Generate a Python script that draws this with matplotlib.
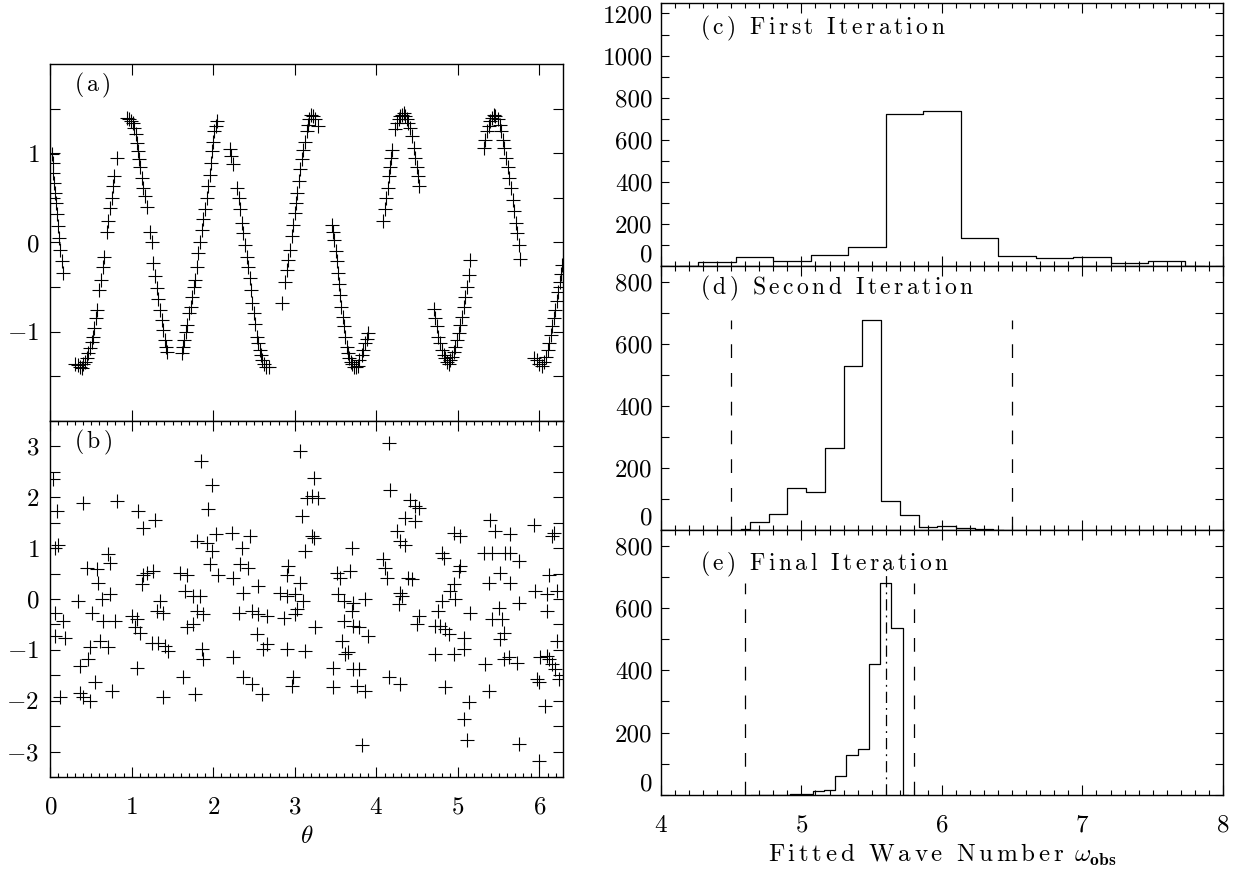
import numpy as np
import matplotlib
matplotlib.use('Agg')
import matplotlib.pyplot as plt
from matplotlib.ticker import MultipleLocator, FixedLocator

plt.rcParams['font.family'] = 'cmr10'
plt.rcParams['mathtext.fontset'] = 'cm'
plt.rcParams['axes.formatter.use_mathtext'] = True
plt.rcParams['axes.linewidth'] = 1.0

# (a) data points
theta_a = [0.018, 0.03, 0.039, 0.047, 0.059, 0.071, 0.08, 0.092, 0.108, 0.12, 0.141, 0.161,
           0.30, 0.345, 0.366, 0.386, 0.407, 0.427, 0.447, 0.468, 0.488, 0.509, 0.521, 0.537, 0.562,
           0.578, 0.603, 0.619, 0.644, 0.664, 0.693, 0.713, 0.734, 0.754, 0.767, 0.783, 0.824,
           0.947, 0.971, 0.987, 1.012, 1.028, 1.049, 1.061, 1.073, 1.09, 1.102, 1.122, 1.143, 1.163,
           1.184, 1.225, 1.245, 1.266, 1.286, 1.306, 1.327, 1.347, 1.368, 1.388, 1.409, 1.421, 1.437,
           1.613, 1.633, 1.642, 1.662, 1.682, 1.703, 1.723, 1.744, 1.764, 1.776, 1.797, 1.817, 1.838,
           1.858, 1.878, 1.899, 1.92, 1.94, 1.96, 1.973, 1.989, 2.002, 2.014, 2.031, 2.043,
           2.206, 2.218, 2.239, 2.288, 2.309, 2.329, 2.35, 2.37, 2.39, 2.411, 2.431, 2.444, 2.46,
           2.48, 2.493, 2.513, 2.534, 2.542, 2.567, 2.583, 2.603, 2.624, 2.648, 2.677,
           2.84, 2.881, 2.901, 2.922, 2.942, 2.963, 2.983, 3.004, 3.016, 3.032, 3.049, 3.065, 3.085,
           3.106, 3.126, 3.147, 3.159, 3.179, 3.196, 3.22, 3.249, 3.29,
           3.454, 3.474, 3.486, 3.503, 3.515, 3.527, 3.544, 3.556, 3.568, 3.585, 3.597, 3.617, 3.638,
           3.65, 3.67, 3.687, 3.707, 3.728, 3.748, 3.769, 3.793, 3.822, 3.842, 3.862, 3.883, 3.903,
           4.087, 4.108, 4.12, 4.137, 4.149, 4.161, 4.178, 4.194, 4.231, 4.251, 4.272, 4.292, 4.313,
           4.333, 4.353, 4.374, 4.394, 4.415, 4.435, 4.456, 4.476, 4.496, 4.505, 4.525,
           4.701, 4.721, 4.742, 4.762, 4.783, 4.803, 4.824, 4.844, 4.865, 4.885, 4.906, 4.926, 4.947,
           4.967, 4.988, 5.008, 5.028, 5.049, 5.069, 5.09, 5.11, 5.131, 5.151,
           5.315, 5.335, 5.356, 5.376, 5.397, 5.417, 5.437, 5.458, 5.486, 5.511, 5.531, 5.552, 5.568,
           5.588, 5.609, 5.629, 5.65, 5.67, 5.691, 5.707, 5.724, 5.744, 5.765,
           5.928, 5.969, 6.0, 6.03, 6.06, 6.08, 6.10, 6.12, 6.14, 6.16, 6.18, 6.19, 6.21, 6.23,
           6.25, 6.27, 6.28]
y_a = [0.99, 0.89, 0.78, 0.67, 0.55, 0.44, 0.32, 0.18, 0.05, -0.08, -0.21, -0.34,
       -1.36, -1.37, -1.39, -1.41, -1.36, -1.34, -1.30, -1.24, -1.18, -1.11, -1.06, -0.96, -0.85,
       -0.76, -0.53, -0.42, -0.27, -0.16, 0.12, 0.24, 0.39, 0.50, 0.63, 0.74, 0.95,
       1.40, 1.38, 1.36, 1.34, 1.28, 1.21, 1.12, 1.02, 0.93, 0.85, 0.72, 0.61, 0.52,
       0.40, 0.12, 0.01, -0.23, -0.38, -0.51, -0.63, -0.76, -0.87, -0.98, -1.09, -1.17, -1.23,
       -1.24, -1.17, -1.09, -1.00, -0.93, -0.79, -0.72, -0.61, -0.50, -0.42, -0.27, -0.12, 0.01,
       0.14, 0.26, 0.37, 0.50, 0.63, 0.76, 0.89, 1.02, 1.13, 1.25, 1.30, 1.36,
       1.05, 0.97, 0.88, 0.61, 0.50, 0.37, 0.22, 0.11, -0.03, -0.16, -0.27, -0.40, -0.53,
       -0.68, -0.79, -0.91, -1.06, -1.13, -1.21, -1.26, -1.32, -1.36, -1.39, -1.40,
       -0.68, -0.44, -0.31, -0.20, -0.08, 0.07, 0.20, 0.33, 0.44, 0.55, 0.69, 0.82, 0.93,
       1.04, 1.13, 1.25, 1.32, 1.38, 1.43, 1.42, 1.38, 1.30,
       0.20, 0.12, 0.03, -0.10, -0.21, -0.34, -0.46, -0.59, -0.72, -0.83, -0.94, -1.06, -1.17,
       -1.24, -1.30, -1.34, -1.36, -1.39, -1.40, -1.38, -1.32, -1.26, -1.21, -1.13, -1.08, -1.02,
       0.24, 0.37, 0.50, 0.61, 0.74, 0.85, 0.95, 1.04, 1.27, 1.34, 1.38, 1.42, 1.43,
       1.45, 1.42, 1.38, 1.34, 1.28, 1.19, 1.06, 0.95, 0.84, 0.74, 0.63,
       -0.74, -0.85, -0.94, -1.06, -1.13, -1.21, -1.26, -1.30, -1.34, -1.36, -1.32, -1.28, -1.23,
       -1.17, -1.09, -1.02, -0.93, -0.83, -0.72, -0.61, -0.50, -0.36, -0.20,
       1.06, 1.15, 1.25, 1.30, 1.36, 1.40, 1.43, 1.42, 1.38, 1.32, 1.25, 1.15, 1.06,
       0.95, 0.84, 0.72, 0.61, 0.48, 0.35, 0.22, 0.11, -0.03, -0.18,
       -1.30, -1.32, -1.36, -1.38, -1.34, -1.28, -1.21, -1.13, -1.04, -0.94, -0.85, -0.76, -0.66, -0.55,
       -0.44, -0.35, -0.25]

# (b) residual points
theta_b = [0.039, 0.088, 0.059, 0.10, 0.407, 0.824, 1.082, 1.143, 1.286, 1.846, 1.99, 1.94, 1.797,
           2.03, 1.92, 1.98, 2.227, 2.35, 2.452, 2.33, 2.43, 2.247, 1.96, 2.063, 2.554, 2.37,
           0.448, 0.57, 0.59, 0.713, 0.734, 0.345, 0.632, 0.734, 0.509, 0.652, 0.795, 0.059, 0.161,
           0.059, 0.182, 0.611, 0.713, 0.488, 0.468, 0.366, 0.55, 0.754, 0.366, 0.407, 0.488, 0.12,
           1.061, 1.0, 1.061, 1.04, 1.10, 1.143, 1.184, 1.266, 1.122, 1.347, 1.306, 1.388, 1.245,
           1.327, 1.409, 1.45, 1.388, 1.634, 1.777, 1.593, 1.675, 1.654, 1.756, 1.838, 1.797, 1.879,
           1.675, 1.756, 1.859, 1.879, 2.247, 2.37, 2.472, 2.595, 2.309, 2.472, 2.554, 2.656, 2.533,
           2.656, 2.615, 2.902, 3.127, 2.82, 2.902, 3.004, 2.922, 2.902, 3.065, 3.106, 3.024, 3.004,
           2.861, 3.249, 2.983, 2.963, 3.065, 3.229, 3.147, 3.29, 3.209, 3.086, 3.208, 3.229, 3.127,
           3.474, 3.474,
           3.515, 3.678, 3.556, 3.535, 3.597, 3.719, 3.863, 3.699, 3.597, 3.719, 3.781, 3.903, 3.576,
           3.617, 3.658, 3.719, 3.781, 3.76, 3.863, 3.822, 4.149, 3.699, 4.169, 4.415, 4.476, 4.517,
           4.353, 4.476, 4.251, 4.292, 4.353, 4.087, 4.108, 4.128, 4.394, 4.435, 4.292, 4.312, 4.272,
           4.517, 4.496, 4.149, 4.292, 4.721, 4.783, 4.844, 4.885, 5.069, 4.803, 4.824, 4.946, 5.028,
           5.028, 5.008, 4.946, 4.905, 4.967, 4.803, 4.762, 5.151, 4.721, 4.946, 5.069, 4.844, 5.13,
           5.069, 5.11, 5.396, 5.458, 5.642, 5.315, 5.417, 5.58, 5.642, 5.744, 5.519, 5.376, 5.642,
           5.744, 5.499, 5.417, 5.539, 5.56, 5.519, 5.335, 5.56, 5.621, 5.723, 5.376, 5.744, 5.928,
           6.153, 6.173, 6.112, 5.948, 6.092, 6.214, 6.092, 6.214, 6.01, 6.092, 6.112, 6.153, 6.194,
           5.969, 5.989, 6.235, 6.071, 5.989]
y_b = [2.35, 1.73, 1.01, 1.07, 1.89, 1.92, 1.73, 1.40, 1.56, 2.71, 2.25, 1.76, 1.14,
       1.27, 1.10, 0.94, 1.30, 1.01, 1.24, 0.68, 0.61, 0.42, 0.68, 0.48, 0.26, 0.12,
       0.61, 0.58, 0.32, 0.88, 0.71, -0.04, -0.01, 0.09, -0.27, -0.43, -0.43, -0.27, -0.43,
       -0.73, -0.76, -0.82, -0.95, -0.95, -1.18, -1.31, -1.64, -1.80, -1.84, -1.93, -2.00, -1.93,
       -1.35, -0.33, -0.40, -0.56, -0.66, 0.48, 0.52, 0.55, 0.29, -0.04, -0.24, -0.27, -0.86,
       -0.86, -0.92, -1.02, -1.93, -1.54, -1.87, 0.52, 0.48, 0.16, 0.06, 0.06, -0.24, -0.30,
       -0.56, -0.50, -0.99, -1.18, -1.15, -1.54, -1.67, -1.87, -0.27, -0.24, -0.30, -0.33, -0.69,
       -0.89, -0.99, -0.99, -1.02, 0.12, 0.06, 0.09, 0.65, 0.48, 0.32, -0.04, -0.20, -0.30,
       -0.37, -0.56, -1.54, -1.71, 2.90, 2.38, 1.99, 1.99, 2.02, 1.63, 1.24, 1.20, 0.94,
       -1.35, -1.74,
       0.52, 0.55, 0.42, 0.09, -0.04, -0.07, -0.01, -0.24, -0.43, -0.53, -0.56, -0.73, -0.82,
       -1.09, -1.05, -1.38, -1.38, -1.71, -1.80, -2.88, 3.07, 1.01, 2.15, 1.95, 1.82, 1.79,
       1.59, 1.53, 1.33, 1.14, 1.07, 0.78, 0.61, 0.42, 0.42, 0.39, 0.12, 0.06, -0.10,
       -0.33, -0.50, -1.54, -1.67, -0.53, -0.53, -0.60, -0.69, -0.76, 0.91, 0.81, 1.30, 1.24,
       0.65, 0.55, 0.29, 0.16, -0.01, -0.04, -0.24, -0.27, -1.09, -1.09, -0.99, -1.74, -2.03,
       -2.36, -2.78, 1.56, 1.33, 1.27, 0.91, 0.91, 0.91, 0.91, 0.75, 0.52, 0.32, 0.32,
       -0.07, -0.17, -0.40, -0.40, -0.66, -0.79, -1.28, -1.18, -1.15, -1.25, -1.80, -2.85, 1.46,
       1.24, 1.30, 0.48, 0.16, 0.09, 0.16, -0.24, -0.82, -1.15, -1.12, -1.18, -1.28, -1.38,
       -1.58, -1.64, -1.58, -2.10, -3.18]

# histograms: bin centres and counts
cen_c = [4.133, 4.4, 4.667, 4.933, 5.2, 5.467, 5.733, 6.0, 6.267, 6.533, 6.8, 7.067, 7.333, 7.6, 7.867]
cnt_c = [0, 20, 44, 25, 52, 88, 722, 737, 131, 47, 36, 41, 16, 24, 0]
cen_d = [4.567, 4.7, 4.833, 4.967, 5.1, 5.233, 5.367, 5.5, 5.633, 5.767, 5.9, 6.033, 6.167, 6.3, 6.433]
cnt_d = [2, 27, 51, 136, 121, 264, 527, 677, 94, 47, 10, 12, 7, 3, 1]
cen_e = [4.64, 4.72, 4.8, 4.88, 4.96, 5.04, 5.12, 5.2, 5.28, 5.36, 5.44, 5.52, 5.6, 5.68, 5.76]
cnt_e = [0, 0, 1, 1, 2, 4, 12, 15, 60, 127, 148, 421, 679, 535, 0]
lim_d = [4.5, 6.5]
lim_e = [4.6, 5.8]
omega_e = 5.6


def spaced(s, gap=r'\,'):
    # letter-spaced roman text, like the wide plot font of the original
    parts = [r'\ ' if ch == ' ' else r'\mathrm{%s}' % ch for ch in s]
    return gap.join(parts)


fs = 18
fig = plt.figure(figsize=(12.47, 8.75), dpi=100)

ax_a = fig.add_axes([0.0403, 0.5189, 0.4108, 0.408])
ax_b = fig.add_axes([0.0403, 0.1120, 0.4108, 0.4069])
ax_c = fig.add_axes([0.530, 0.696, 0.4507, 0.3006])
ax_d = fig.add_axes([0.530, 0.3943, 0.4507, 0.3017])
ax_e = fig.add_axes([0.530, 0.0914, 0.4507, 0.3029])

for ax in [ax_a, ax_b, ax_c, ax_d, ax_e]:
    ax.tick_params(which='both', direction='in', top=True, right=True, width=0.8, labelsize=fs)

# left column
ax_a.plot(theta_a, y_a, '+', color='k', ms=9.5, mew=0.8)
ax_a.set_xlim(0, 2 * np.pi)
ax_a.set_ylim(-2, 2)
ax_a.xaxis.set_major_locator(MultipleLocator(1))
ax_a.yaxis.set_major_locator(FixedLocator([-1, 0, 1]))
ax_a.yaxis.set_minor_locator(FixedLocator([-1.5, -0.5, 0.5, 1.5]))
ax_a.tick_params(axis='x', which='major', length=8, labelbottom=False)
ax_a.tick_params(axis='y', which='both', length=7, pad=8)
ax_a.text(0.047, 0.94, '$' + spaced('(a)') + '$', transform=ax_a.transAxes, fontsize=17, va='center')

ax_b.plot(theta_b, y_b, '+', color='k', ms=9.5, mew=0.8)
ax_b.set_xlim(0, 2 * np.pi)
ax_b.set_ylim(-3.5, 3.5)
ax_b.xaxis.set_major_locator(MultipleLocator(1))
ax_b.xaxis.set_minor_locator(MultipleLocator(0.1))
ax_b.yaxis.set_major_locator(MultipleLocator(1))
ax_b.yaxis.set_minor_locator(MultipleLocator(0.5))
ax_b.tick_params(axis='x', which='major', length=7, pad=14)
ax_b.tick_params(axis='x', which='minor', length=3)
ax_b.tick_params(axis='y', which='both', length=7, pad=8)
ax_b.set_xlabel(r'$\theta$', fontsize=fs, labelpad=5)
ax_b.text(0.047, 0.94, '$' + spaced('(b)') + '$', transform=ax_b.transAxes, fontsize=17, va='center')

# right column
hist_axes = [(ax_c, cen_c, cnt_c, 1250, '(c) First Iteration', 0.905),
             (ax_d, cen_d, cnt_d, 850, '(d) Second Iteration', 0.915),
             (ax_e, cen_e, cnt_e, 850, '(e) Final Iteration', 0.87)]
for ax, cen, cnt, top, label, ty in hist_axes:
    ax.step(cen, cnt, where='mid', color='k', lw=0.9)
    ax.set_xlim(4, 8)
    ax.set_ylim(0, top)
    ax.xaxis.set_major_locator(MultipleLocator(1))
    ax.xaxis.set_minor_locator(MultipleLocator(0.1))
    ax.yaxis.set_minor_locator(MultipleLocator(100))
    yt = list(range(0, top - 49, 200))
    ax.set_yticks(yt)
    labs = ax.set_yticklabels([str(v) for v in yt])
    labs[0].set_va('bottom')
    ax.tick_params(axis='x', which='major', length=7, pad=14)
    ax.tick_params(axis='x', which='minor', length=3.5)
    ax.tick_params(axis='y', which='both', length=6, pad=6)
    ax.text(0.069, ty, '$' + spaced(label) + '$', transform=ax.transAxes, fontsize=17, va='center')
    if ax is not ax_e:
        ax.tick_params(axis='x', labelbottom=False)

ax_d.vlines(lim_d, 0, max(cnt_d), colors='k', lw=0.9, linestyles=(0, (11, 12)))
ax_e.vlines(lim_e, 0, max(cnt_e), colors='k', lw=0.9, linestyles=(0, (11, 12)))
ax_e.vlines([omega_e], 0, 1.1 * max(cnt_e), colors='k', lw=0.9, linestyles=(0, (9, 4, 1.5, 4)))
ax_e.set_xlabel('$' + spaced('Fitted Wave Number ') + r'\omega_{\mathbf{obs}}$',
                fontsize=fs, labelpad=4)

fig.savefig('out.png', dpi=100)
